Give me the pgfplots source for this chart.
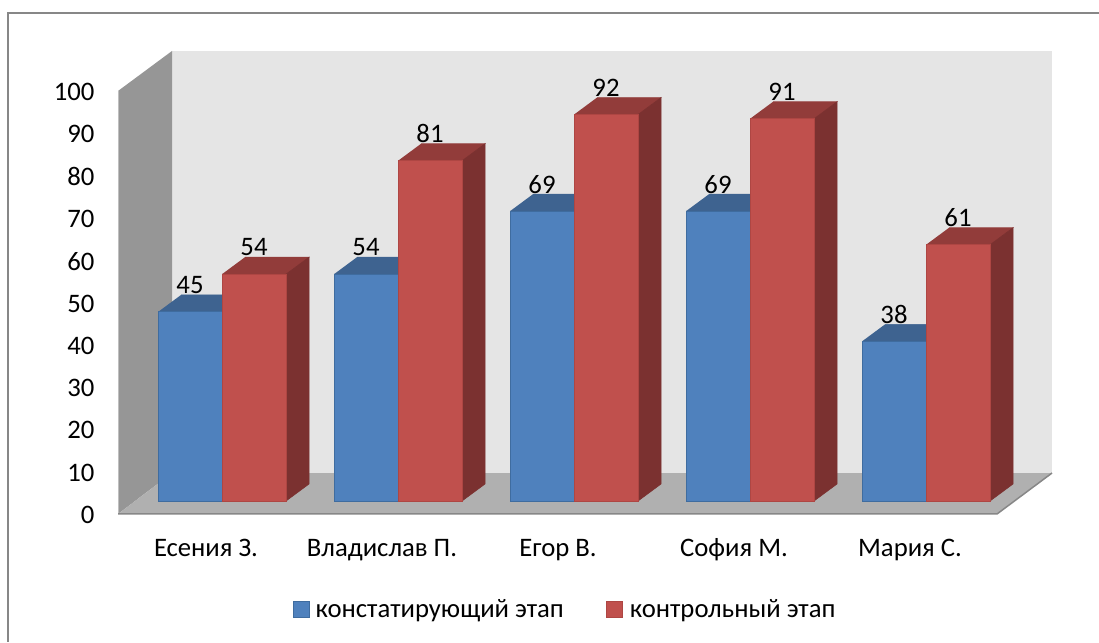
\documentclass[border=0pt]{standalone}
\usepackage{pgfplots}
\pgfplotsset{compat=1.18}
\usepackage{fontspec}
\setmainfont{Carlito}
\definecolor{bluef}{HTML}{4F81BD}
\definecolor{bluet}{HTML}{3E6390}
\definecolor{blueb}{HTML}{3F6C9F}
\definecolor{redf}{HTML}{C0504D}
\definecolor{redt}{HTML}{923C3A}
\definecolor{reds}{HTML}{7B3130}
\definecolor{redb}{HTML}{AE4643}
\newcommand{\face}[2]{\addplot[fill=#1,draw=#1,line width=0.6pt,forget plot] coordinates {#2};}
\newcommand{\chartfont}{\fontsize{26.7}{26.7}\selectfont}
\begin{document}
\begin{tikzpicture}[x=1pt,y=1pt]
\path[use as bounding box] (0,0) rectangle (1099,642);
\fill[white] (0,0) rectangle (1099,642);
\draw[color=black!47,line width=1.6pt] (1099,629) -- (8,629) -- (8,0);
% walls, floor and value ticks
\begin{axis}[
  at={(118pt,128pt)},anchor=south west,scale only axis,
  width=934pt,height=463pt,
  xmin=118,xmax=1052,ymin=0,ymax=109.46,
  axis line style={draw=none},clip=false,
  major tick length=0pt,
  xtick=\empty,
  ytick={0,10,...,100},
  yticklabel style={font=\chartfont,xshift=-20pt,yshift=-1pt},
  /pgf/number format/assume math mode=true,
]
\addplot[fill=black!10,draw=none] coordinates {(172,9.69) (1052,9.69) (1052,109.46) (172,109.46)};
\addplot[fill=black!41,draw=none] coordinates {(118,0) (172,9.69) (172,109.46) (118,100)};
\addplot[fill=black!31,draw=none] coordinates {(118,0) (172,9.69) (1052,9.69) (997,0)};
\addplot[draw=black!25,line width=1pt] coordinates {(118,0) (118,100)};
\addplot[draw=black!47,line width=1.5pt] coordinates {(118,0) (997,0) (1052,9.69)};
\end{axis}
% bars: value 0 on the floor inside, 4.2 pt for each unit
\begin{axis}[
  at={(0pt,141pt)},anchor=south west,scale only axis,
  width=1099pt,height=420pt,
  xmin=0,xmax=1099,ymin=0,ymax=100,
  axis line style={draw=none},clip=false,
  major tick length=0pt,
  ytick=\empty,
  xtick={206,382,558,734,910},
  xticklabels={Есения З.,Владислав П.,Егор В.,София М.,Мария С.},
  xticklabel style={font=\chartfont,text height=18pt,text depth=5pt,yshift=-34pt},
  legend style={at={(565pt,-108pt)},anchor=center,draw=none,fill=none,
    legend columns=2,font=\chartfont,
    /tikz/every even column/.append style={column sep=40pt},
    /tikz/column 1/.style={column sep=4pt},
    /tikz/column 3/.style={column sep=5pt}},
  legend image code/.code={\draw[#1] (0pt,-8pt) rectangle (16pt,8pt);},
  /pgf/number format/assume math mode=true,
]
\face{bluet}{(158,45) (222,45) (245,49.05) (181,49.05)}
\face{bluet}{(334,54) (398,54) (421,58.05) (357,58.05)}
\face{bluet}{(510,69) (574,69) (597,73.05) (533,73.05)}
\face{bluet}{(686,69) (750,69) (773,73.05) (709,73.05)}
\face{bluet}{(862,38) (926,38) (949,42.05) (885,42.05)}
\addplot[ybar,bar width=64pt,bar shift=-32pt,fill=bluef,draw=blueb,line width=1pt,
  nodes near coords,nodes near coords style={font=\chartfont,anchor=center,xshift=-32pt,yshift=27pt,text=black}]
  coordinates {(222,45) (398,54) (574,69) (750,69) (926,38)};
\addlegendentry{констатирующий этап}
\face{redt}{(222,54) (286,54) (309,58.05) (245,58.05)}
\face{redt}{(398,81) (462,81) (485,85.05) (421,85.05)}
\face{redt}{(574,92) (638,92) (661,96.05) (597,96.05)}
\face{redt}{(750,91) (814,91) (837,95.05) (773,95.05)}
\face{redt}{(926,61) (990,61) (1013,65.05) (949,65.05)}
\face{reds}{(286,0) (309,4.05) (309,58.05) (286,54)}
\face{reds}{(462,0) (485,4.05) (485,85.05) (462,81)}
\face{reds}{(638,0) (661,4.05) (661,96.05) (638,92)}
\face{reds}{(814,0) (837,4.05) (837,95.05) (814,91)}
\face{reds}{(990,0) (1013,4.05) (1013,65.05) (990,61)}
\addplot[ybar,bar width=64pt,bar shift=32pt,fill=redf,draw=redb,line width=1pt,
  nodes near coords,nodes near coords style={font=\chartfont,anchor=center,xshift=32pt,yshift=27pt,text=black}]
  coordinates {(222,54) (398,81) (574,92) (750,91) (926,61)};
\addlegendentry{контрольный этап}
\end{axis}
\end{tikzpicture}
\end{document}
